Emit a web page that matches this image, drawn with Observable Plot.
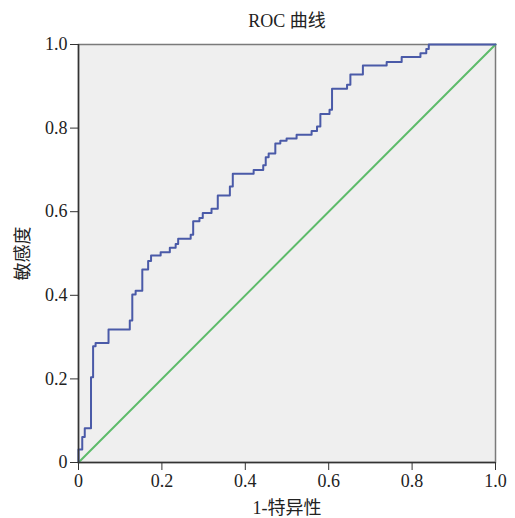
<!DOCTYPE html>
<html>
<head>
<meta charset="utf-8">
<script src="https://cdn.jsdelivr.net/npm/d3@7"></script>
<script src="https://cdn.jsdelivr.net/npm/@observablehq/plot@0.6"></script>
<style>
  body { margin: 0; background: #fff; }
  #chart svg { font-family: "Liberation Serif", "Noto Sans CJK SC", serif; }
</style>
</head>
<body>
<div id="chart"></div>
<script>
const titleText = "ROC 曲线";
const xLabel = "1-特异性";
const yLabel = "敏感度";
const tickValues = [0, 0.2, 0.4, 0.6, 0.8, 1.0];
const tickLabels = ["0", "0.2", "0.4", "0.6", "0.8", "1.0"];

// ROC step vertices: at each fpr the sensitivity jumps to tpr
const fpr = [0, 0, 0.009, 0.015, 0.030, 0.035, 0.041, 0.072, 0.123, 0.129, 0.137, 0.153, 0.167, 0.174, 0.197, 0.219, 0.233, 0.239, 0.269, 0.275, 0.290, 0.298, 0.319, 0.334, 0.363, 0.370, 0.420, 0.443, 0.449, 0.456, 0.472, 0.484, 0.499, 0.523, 0.559, 0.572, 0.580, 0.602, 0.608, 0.644, 0.652, 0.682, 0.739, 0.775, 0.820, 0.834, 0.840, 1.0];
const tpr = [0, 0.031, 0.061, 0.082, 0.204, 0.278, 0.286, 0.318, 0.340, 0.402, 0.411, 0.462, 0.482, 0.495, 0.503, 0.514, 0.523, 0.535, 0.545, 0.577, 0.585, 0.597, 0.607, 0.639, 0.660, 0.691, 0.700, 0.711, 0.730, 0.739, 0.763, 0.770, 0.775, 0.784, 0.793, 0.804, 0.834, 0.844, 0.894, 0.904, 0.928, 0.950, 0.958, 0.970, 0.979, 0.989, 1.0, 1.0];
const refX = [0, 1];
const refY = [0, 1];

const roc = fpr.map((x, i) => ({x, y: tpr[i]}));
const ref = refX.map((x, i) => ({x, y: refY[i]}));
const fmt = d => tickLabels[tickValues.indexOf(d)] ?? d;

const chart = Plot.plot({
  width: 515,
  height: 518,
  marginLeft: 78,
  marginRight: 20,
  marginTop: 44,
  marginBottom: 56,
  style: {fontSize: "18px", fontFamily: "'Liberation Serif', 'Noto Sans CJK SC', serif", color: "#222", background: "#fff"},
  x: {domain: [0, 1]},
  y: {domain: [0, 1]},
  marks: [
    Plot.frame({fill: "#efefef", stroke: "#7a7a7a", strokeWidth: 1.5}),
    Plot.line(ref, {x: "x", y: "y", stroke: "#5dbb6a", strokeWidth: 2}),
    Plot.line(roc, {x: "x", y: "y", curve: "step-after", stroke: "#4a5aa8", strokeWidth: 2}),
    Plot.ruleX([0], {stroke: "#333", strokeWidth: 1.5}),
    Plot.ruleY([0], {stroke: "#333", strokeWidth: 1.5}),
    Plot.axisX({ticks: tickValues, tickFormat: fmt, tickSize: 8, tickPadding: 4, stroke: "#333", label: null, fontSize: 18}),
    Plot.axisY({ticks: tickValues, tickFormat: fmt, tickSize: 8, tickPadding: 3, stroke: "#333", label: null, fontSize: 18}),
    Plot.text([xLabel], {frameAnchor: "bottom", dy: 51, textAnchor: "middle", fontSize: 18, fill: "#222"}),
    Plot.text([yLabel], {frameAnchor: "left", dx: -55, rotate: -90, textAnchor: "middle", fontSize: 18, fill: "#222"}),
    Plot.text([titleText], {frameAnchor: "top", dy: -30, textAnchor: "middle", fontSize: 18, fill: "#222"})
  ]
});
document.getElementById("chart").appendChild(chart);
</script>
</body>
</html>
